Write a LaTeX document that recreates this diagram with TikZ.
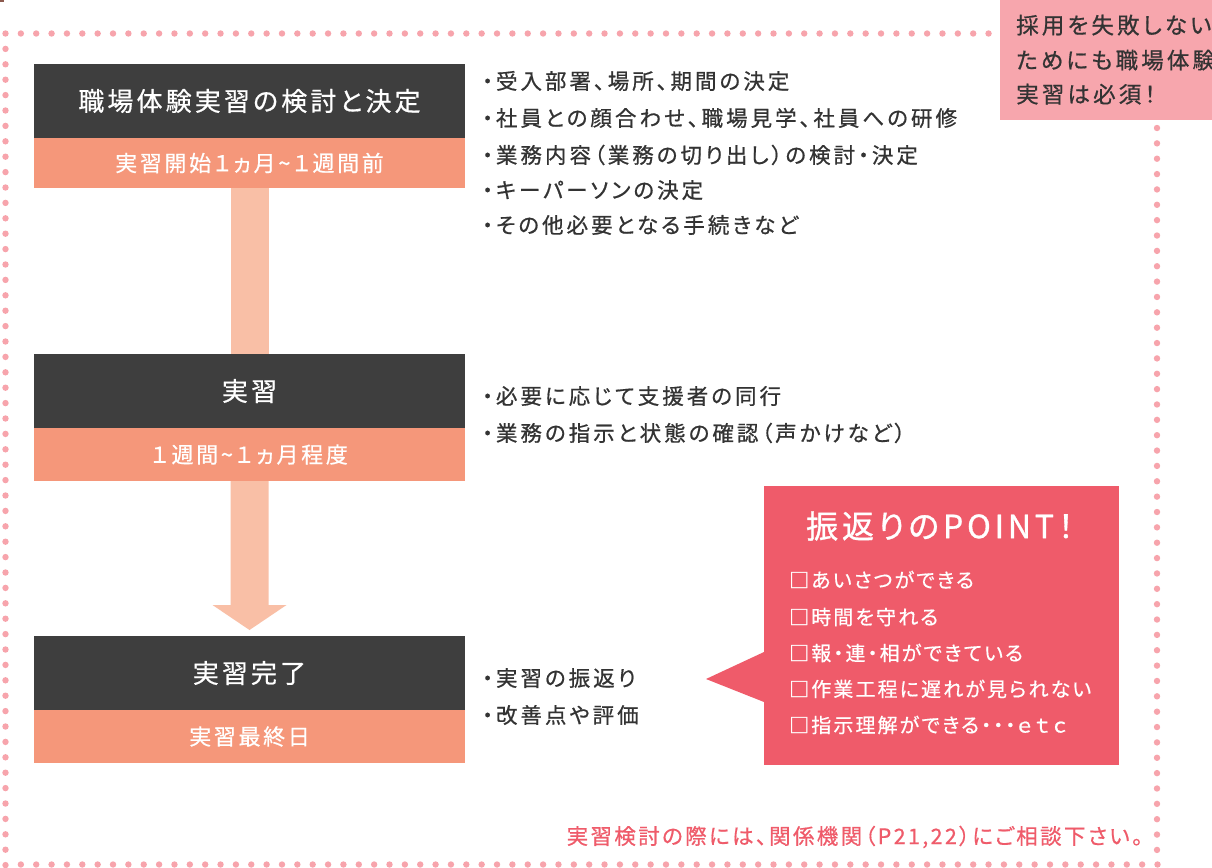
\documentclass[tikz,border=0pt]{standalone}
\usepackage{fontspec}
\usetikzlibrary{calc}
\newfontfamily\jp{Noto Sans CJK JP}[RawFeature=+palt]
\definecolor{dotc}{HTML}{F7A4AC}
\definecolor{pinkbox}{HTML}{F7A6AD}
\definecolor{darkbox}{HTML}{3E3E3E}
\definecolor{orangebox}{HTML}{F5977A}
\definecolor{arrowc}{HTML}{F9BFA6}
\definecolor{coral}{HTML}{EF5B6A}
\definecolor{txt}{HTML}{333333}
\definecolor{markc}{HTML}{8C5A4E}
\begin{document}
\begin{tikzpicture}[x=1pt,y=-1pt,
  darkstep/.style={fill=darkbox, minimum width=431pt, inner sep=0pt, anchor=north west, outer sep=0pt},
  orangestep/.style={fill=orangebox, minimum width=431pt, inner sep=0pt, anchor=north west, outer sep=0pt},
  titletext/.style={text=white, inner sep=0pt, font=\jp\fontsize{26}{30}\selectfont\addfontfeatures{LetterSpace=12,FakeBold=0.6}},
  subtext/.style={text=white, inner sep=0pt, font=\jp\fontsize{22}{26}\selectfont\addfontfeatures{LetterSpace=12,FakeBold=0.6}},
  listtext/.style={anchor=west, inner sep=0pt, text=txt, text height=18.9pt, text depth=2.6pt,
     font=\jp\fontsize{21.5}{24}\selectfont\addfontfeatures{LetterSpace=14,FakeBold=0.7}},
  pointitem/.style={anchor=west, inner sep=0pt, text=white, text height=17.6pt, text depth=2.4pt,
     font=\jp\fontsize{20}{24}\selectfont\addfontfeatures{LetterSpace=10.5,FakeBold=0.6}},
  notetext/.style={anchor=west, inner sep=0pt, text=txt, text height=20pt, text depth=2.7pt,
     font=\jp\fontsize{22.5}{26}\selectfont\addfontfeatures{LetterSpace=14,FakeBold=0.7}}
]
\useasboundingbox (0,0) rectangle (1212,867);
\fill[white] (0,0) rectangle (1212,867);
% tiny mark
\fill[markc] (0,0) rectangle (4,2);
% dotted frame
\foreach \i in {0,...,64} \fill[dotc] (5.5+\i*15.36,33.5) circle (3.2);
\foreach \i in {1,...,54} \fill[dotc] (5.5,33.5+\i*15.4) circle (3.2);
\foreach \i in {1,...,75} \fill[dotc] (5.5+\i*15.36,864.5) circle (3.2);
\foreach \i in {0,...,47} \fill[dotc] (1157,128+\i*15.36) circle (3.2);
% top-right note
\node[fill=pinkbox, anchor=north west, minimum width=240pt, minimum height=120pt, inner sep=0pt] (note) at (1000,0) {};
\node[notetext] (n1) at (1016,25) {採用を失敗しない};
\node[notetext] (n2) at (1016,60) {ためにも職場体験};
\node[notetext] (n3) at (1016,94) {実習は必須！};
% step boxes
\node[darkstep, minimum height=74pt] (s1) at (34,64) {};
\node[orangestep, minimum height=50pt] (d1) at (34,138) {};
\node[darkstep, minimum height=74pt] (s2) at (34,354) {};
\node[orangestep, minimum height=53pt] (d2) at (34,428) {};
\node[darkstep, minimum height=74pt] (s3) at (34,636) {};
\node[orangestep, minimum height=53pt] (d3) at (34,710) {};
\node[titletext] (t1) at (s1.center) {職場体験実習の検討と決定};
\node[subtext] (u1) at (d1.center) {実習開始１ヵ月\string~１週間前};
\node[titletext] (t2) at (s2.center) {実習};
\node[subtext] (u2) at (d2.center) {１\,週間\string~１\,ヵ月程度};
\node[titletext] (t3) at (s3.center) {実習完了};
\node[subtext] (u3) at (d3.center) {実習最終日};
% arrows
\fill[arrowc] ($(d1.south)+(-19,0)$) rectangle ($(s2.north)+(19,0)$);
\fill[arrowc] ($(d2.south)+(-19,0)$) -- ($(s3.north)+(-19,-31)$) -- ($(s3.north)+(-37,-31)$)
   -- ($(s3.north)+(0,-6)$) -- ($(s3.north)+(37,-31)$) -- ($(s3.north)+(19,-31)$)
   -- ($(d2.south)+(19,0)$) -- cycle;
% lists
\node[listtext] (a1) at (482,81) {・受入部署、場所、期間の決定};
\node[listtext] (a2) at (482,118) {・社員との顔合わせ、職場見学、社員への研修};
\node[listtext] (a3) at (482,155) {・業務内容（業務の切り出し）の検討・決定};
\node[listtext] (a4) at (482,190) {・キーパーソンの決定};
\node[listtext] (a5) at (482,225) {・その他必要となる手続きなど};
\node[listtext] (b1) at (482,396) {・必要に応じて支援者の同行};
\node[listtext] (b2) at (482,433) {・業務の指示と状態の確認（声かけなど）};
\node[listtext] (c1) at (482,678) {・実習の振返り};
\node[listtext] (c2) at (482,715) {・改善点や評価};
% point box
\node[fill=coral, anchor=north west, minimum width=355pt, minimum height=279pt, inner sep=0pt, outer sep=0pt] (pt) at (764,486) {};
\fill[coral] ($(pt.north west)+(0,166)$) -- ($(pt.north west)+(-58,193)$) -- ($(pt.north west)+(0,216)$) -- cycle;
\node[text=white, inner sep=0pt, font=\jp\fontsize{32}{36}\selectfont\addfontfeatures{LetterSpace=12,FakeBold=1}] (ptt) at (940,526) {振返りのPOINT！};
\node[pointitem] (p1) at (789,580) {□あいさつができる};
\node[pointitem] (p2) at (789,617) {□時間を守れる};
\node[pointitem] (p3) at (789,653) {□報・連・相ができている};
\node[pointitem] (p4) at (789,689) {□作業工程に遅れが見られない};
\node[pointitem] (p5) at (789,725) {□指示理解ができる・・・ｅ\hspace{4pt}ｔ\hspace{4pt}ｃ};
% bottom note
\node[anchor=east, inner sep=0pt, text=coral, text height=18.9pt, text depth=2.6pt,
  font=\jp\fontsize{21.5}{24}\selectfont\addfontfeatures{LetterSpace=11,FakeBold=0.6}] (foot) at (1143,836)
  {実習検討の際には、関係機関（P21,22）にご相談下さい。};
\end{tikzpicture}
\end{document}
